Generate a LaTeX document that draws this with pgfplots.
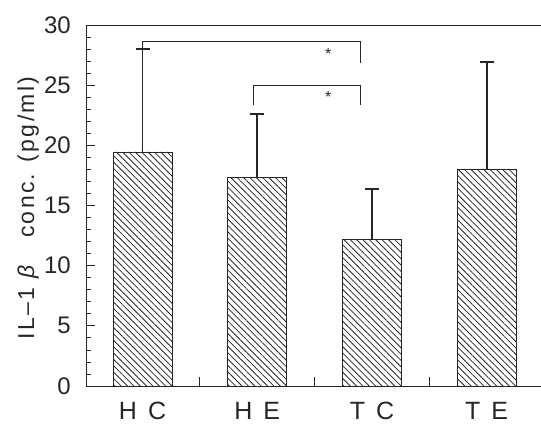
\documentclass[border=0pt]{standalone}
\usepackage{pgfplots}
\pgfplotsset{compat=1.18}
\usepackage{fontspec}
\setmainfont{Liberation Sans}
\usetikzlibrary{patterns.meta}

\colorlet{ink}{black!85}

\begin{document}
\begin{tikzpicture}
\begin{axis}[
  width=455pt, height=361pt, scale only axis,
  xmin=-0.493, xmax=3.474,
  ymin=0, ymax=30,
  axis x line*=bottom, axis y line*=left,
  axis line style={ink, line width=0.9pt, -},
  ytick={0,5,...,30}, minor y tick num=4,
  xtick={0.5,1.5,2.5}, xticklabels={},
  extra x ticks={0,1,2,3},
  extra x tick labels={H\hspace{11pt}C, H\hspace{11pt}E, T\hspace{11pt}C, T\hspace{11pt}E},
  extra x tick style={major tick length=0pt},
  tick align=inside,
  major tick length=9pt, minor tick length=5pt,
  tick style={ink, line width=0.8pt},
  /pgf/number format/assume math mode=true,
  tick label style={font=\fontsize{24}{24}\selectfont, text=ink, inner sep=0pt},
  yticklabel style={anchor=east, xshift=-15pt},
  xticklabel style={anchor=north, yshift=-16pt, font=\fontsize{25}{25}\selectfont},
  ylabel={\addfontfeatures{LetterSpace=10}IL–1 {\itshape β}\hspace{28pt}conc. (pg/ml)},
  ylabel style={at={(axis description cs:-0.127,0.493)}, anchor=center,
    font=\fontsize{23}{23}\selectfont, text=ink, inner sep=0pt},
  clip=false,
]
\addplot[ybar, bar width=59pt, draw=ink, line width=0.6pt,
  pattern={Lines[angle=-45, distance=4.5pt, line width=0.8pt]}, pattern color=ink,
  error bars/.cd, y dir=plus, y explicit,
  error bar style={ink, line width=1.8pt},
  error mark options={rotate=90, mark size=7pt, line width=1.8pt, ink}]
  table[x=x, y=y, y error=e] {
  x y     e
  0 19.45 8.55
  1 17.35 5.25
  2 12.20 4.20
  3 18.05 8.85
};
% significance brackets
\addplot[ink, line width=0.8pt] coordinates {(0,28.0) (0,28.6) (1.9,28.6) (1.9,26.85)};
\addplot[ink, line width=0.8pt] coordinates {(0.97,23.36) (0.97,25.0) (1.9,25.0) (1.9,23.36)};
\node[text=ink, font=\fontsize{16}{16}\selectfont] at (axis cs:1.62,27.6) {*};
\node[text=ink, font=\fontsize{16}{16}\selectfont] at (axis cs:1.62,24.05) {*};
\draw[ink, line width=0.9pt] (rel axis cs:0,1) -- (rel axis cs:1,1);
\end{axis}
\pgfresetboundingbox
\path (-86pt,-38pt) rectangle (455pt,386pt);
\end{tikzpicture}
\end{document}
